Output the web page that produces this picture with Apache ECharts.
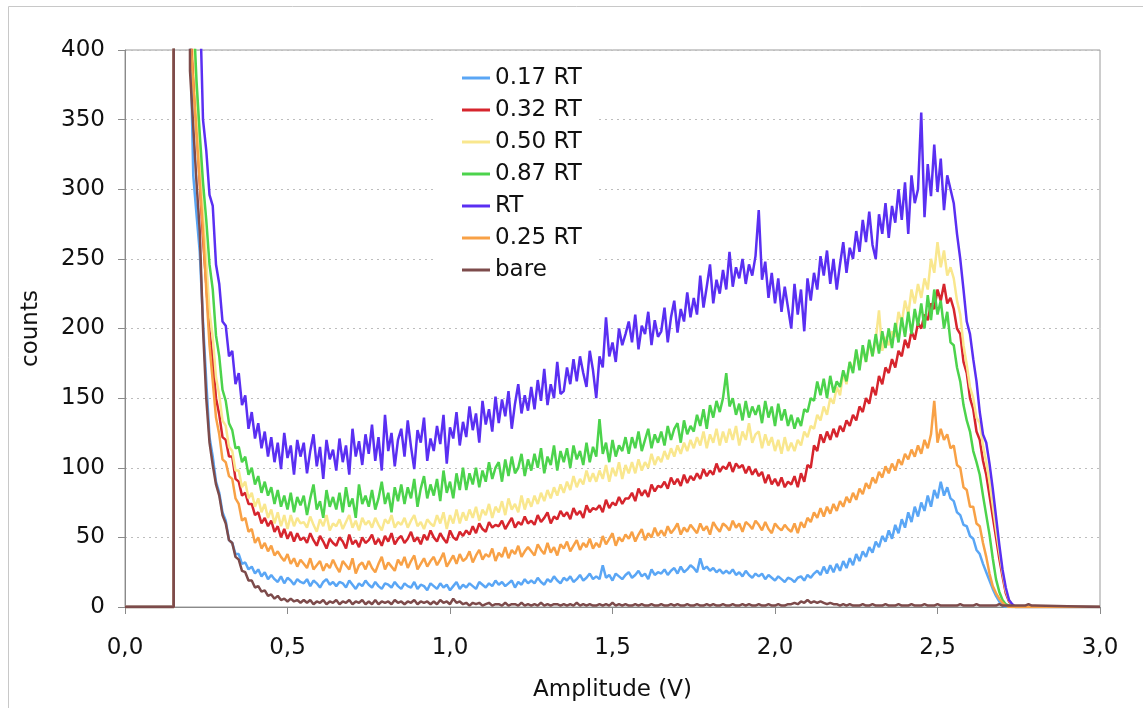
<!DOCTYPE html>
<html><head><meta charset="utf-8">
<script src="https://cdn.jsdelivr.net/npm/echarts@6/dist/echarts.min.js"></script>
<style>html,body{margin:0;padding:0;background:#fff}#c{width:1143px;height:708px}</style>
</head><body><div id="c"></div>
<script>
// Amplitude bins: first bin at 0.15 V, bin width 0.01 V (values below are counts per bin, 0.15 .. 2.80 V)
const amplitudeStart = 0.15;
const binWidth = 0.01;
const xTickValues = [0, 0.5, 1.0, 1.5, 2.0, 2.5, 3.0];
const yTickValues = [0, 50, 100, 150, 200, 250, 300, 350, 400];
const seriesNames = ['0.17 RT', '0.32 RT', '0.50 RT', '0.87 RT', 'RT', '0.25 RT', 'bare'];

const rt017 = [
2000,2000,2000,2000,2000,420,310,282,255,205,
162,122,108,90,82,68,62,48,46,38,
38,31,32,27,29,24,27,22,25,20,
23,20,18,22,17,21,19,16,20,18,
17,20,15,19,17,14,18,20,16,18,
15,18,17,14,19,16,13,17,15,19,
16,14,18,15,13,17,16,14,18,15,
13,17,15,14,18,13,16,15,12,17,
15,13,17,14,16,12,15,18,13,16,
14,17,15,13,18,16,14,17,15,19,
16,18,15,17,19,14,18,16,20,17,
19,17,21,18,16,20,18,22,19,17,
21,19,22,18,20,23,19,21,24,20,
22,20,30,21,23,19,24,22,20,23,
25,21,23,26,22,24,20,27,23,25,
24,27,23,26,28,24,29,25,27,30,
28,25,35,27,29,26,28,25,27,24,
26,24,27,23,25,22,26,23,21,24,
22,24,20,23,21,19,22,20,18,21,
20,18,21,22,19,23,21,24,26,23,
29,24,30,25,31,26,33,28,35,30,
38,33,40,36,43,39,47,43,51,47,
55,49,59,53,63,57,68,61,72,65,
75,69,80,72,84,78,90,80,86,78,
76,68,66,59,58,51,49,41,38,31,
25,19,13,8,4,1,0,0,0,0,
0,0,0,0,0,0];

const rt032 = [
2000,2000,2000,2000,2000,420,385,345,305,265,
232,198,178,150,138,122,120,108,108,92,
90,80,82,74,74,66,68,60,64,58,
62,54,58,50,56,49,54,47,53,48,
50,46,53,48,44,51,47,42,49,46,
44,50,47,42,52,45,48,43,50,46,
48,52,45,49,44,51,47,53,45,49,
51,46,49,54,47,50,45,52,48,55,
50,47,53,49,46,55,50,48,54,51,
55,52,58,53,60,56,54,61,57,59,
58,62,56,60,64,57,61,59,65,60,
62,59,66,61,64,68,60,65,63,69,
65,68,63,71,66,69,64,73,68,71,
70,73,68,77,71,75,73,79,74,78,
78,82,76,85,80,84,79,88,83,87,
86,90,85,93,88,92,87,95,89,94,
91,96,92,99,94,98,95,103,97,101,
99,104,97,103,100,102,96,101,95,99,
94,97,89,95,88,92,87,93,86,90,
88,94,86,96,90,102,100,116,112,124,
118,126,120,128,122,130,126,134,130,138,
134,144,140,150,146,158,152,166,160,172,
168,178,172,184,180,192,186,198,192,204,
200,210,206,218,214,228,220,232,218,222,
214,200,196,176,168,150,142,126,120,105,
95,80,65,50,35,22,10,4,1,0,
0,0,0,0,0,0];

const rt050 = [
2000,2000,2000,2000,2000,460,410,365,322,282,
248,212,194,165,152,134,130,115,112,98,
98,86,90,78,82,72,78,68,74,64,
70,60,68,58,66,56,66,58,64,60,
61,57,65,59,54,63,58,66,55,60,
58,63,56,61,66,57,62,55,64,59,
62,57,64,59,55,63,60,66,57,61,
59,64,57,62,66,58,61,56,63,60,
58,66,60,68,56,66,60,70,60,68,
62,70,64,72,62,70,66,74,64,72,
68,76,66,78,70,74,68,80,70,78,
72,80,74,82,76,84,78,86,80,88,
82,90,84,94,86,92,88,98,90,96,
90,98,92,102,90,100,94,104,92,102,
96,104,96,106,98,104,100,110,102,108,
104,112,106,114,108,116,110,118,112,120,
114,122,116,126,114,124,118,128,116,126,
118,128,120,130,116,126,120,132,118,124,
126,114,124,116,122,112,120,110,122,112,
118,112,120,116,126,122,130,128,138,134,
144,138,150,146,158,152,168,160,176,170,
184,172,186,176,190,180,192,213,184,194,
188,198,194,212,204,220,210,228,218,232,
222,236,228,250,240,262,244,256,238,244,
236,220,210,188,174,158,150,136,132,116,
104,90,73,56,40,25,12,5,1,0,
0,0,0,0,0,0];

const rt087 = [
2000,2000,2000,2000,2000,470,430,378,340,305,
278,246,228,195,180,156,148,132,127,114,
115,104,108,95,100,88,94,82,90,80,
86,74,84,72,80,70,82,68,79,73,
80,66,78,88,70,76,64,84,72,79,
70,82,68,86,72,78,64,88,74,80,
72,84,70,78,90,74,82,68,86,76,
88,74,86,78,92,72,85,94,78,88,
80,92,76,98,82,90,78,96,84,100,
84,96,88,100,86,98,90,104,92,100,
104,90,106,94,108,96,100,110,94,106,
98,110,100,114,96,108,102,116,98,112,
104,114,100,116,106,112,102,118,104,115,
108,135,110,118,104,120,108,116,112,122,
110,122,114,126,112,120,128,114,124,118,
126,116,130,120,128,132,118,134,124,130,
126,138,130,142,128,145,136,148,140,150,
168,144,150,138,146,134,148,136,144,138,
145,132,148,136,144,130,146,134,142,130,
138,128,136,130,142,140,150,148,162,152,
164,150,166,154,162,158,170,162,176,168,
185,170,188,176,192,180,196,182,198,186,
200,186,204,190,208,194,212,196,214,202,
218,200,224,206,228,210,220,200,212,190,
188,172,162,145,134,126,112,104,95,80,
66,52,35,20,11,5,2,1,0,0,
0,0,0,0,0,0];

const rtFull = [
2000,2000,2000,2000,2000,900,700,560,440,350,
328,296,288,246,232,205,202,180,184,160,
168,145,152,128,140,121,132,114,126,108,
122,104,118,99,125,107,116,95,120,108,
118,96,112,124,101,115,92,120,106,113,
98,121,104,116,95,128,108,119,102,124,
110,131,105,122,98,138,112,125,101,120,
128,108,134,115,99,127,118,136,105,121,
112,130,117,138,103,129,121,140,116,133,
122,144,127,139,118,148,131,142,126,151,
132,149,137,155,128,146,160,139,152,141,
158,142,163,148,171,145,160,150,176,153,
155,172,160,178,162,180,168,158,184,170,
150,180,172,208,180,190,176,200,188,196,
205,190,210,185,202,196,212,188,206,194,
198,215,190,208,220,197,214,205,226,208,
222,210,238,215,230,246,218,235,225,242,
228,255,230,244,236,250,232,246,238,252,
285,235,248,222,240,218,236,212,230,215,
200,232,210,228,198,236,220,240,228,252,
238,256,232,250,228,246,262,240,258,250,
270,255,278,262,284,260,250,282,268,290,
265,288,276,300,278,305,268,310,290,300,
355,280,318,295,332,298,322,285,310,300,
290,268,250,228,205,196,178,162,140,124,
118,103,85,65,45,27,14,5,2,0,
0,0,0,0,0,0];

const rt025 = [
2000,2000,2000,2000,2000,415,375,340,305,270,
228,188,162,136,124,106,104,94,92,78,
74,62,64,54,56,46,50,42,46,40,
44,37,40,36,33,38,31,35,29,34,
31,28,35,27,30,33,26,31,28,34,
29,25,33,30,27,35,24,30,32,27,
33,28,25,31,36,27,32,29,26,34,
30,36,28,33,37,27,31,35,29,33,
36,30,34,39,29,33,37,31,38,33,
35,40,32,37,41,34,38,36,42,33,
39,36,43,35,41,38,44,36,40,43,
40,37,45,41,38,46,39,43,37,45,
42,47,40,44,48,41,46,43,49,42,
46,43,51,45,49,53,44,50,47,52,
49,54,47,52,56,48,53,50,57,51,
55,51,58,53,56,60,52,57,54,59,
56,53,60,55,58,52,61,57,54,60,
58,55,62,57,60,54,61,59,56,62,
59,55,61,56,53,60,57,55,59,56,
54,60,53,61,57,64,61,68,64,71,
65,72,67,74,69,76,72,79,75,82,
77,85,81,89,85,93,89,97,93,101,
96,103,98,106,102,110,106,113,108,116,
110,120,114,124,148,118,128,120,124,114,
116,102,100,86,84,72,72,60,58,46,
36,24,15,10,6,3,1,0,0,0,
0,0,0,0,0,0];

const bare = [
2000,2000,2000,2000,2000,385,345,305,270,200,
150,118,102,88,80,66,60,48,46,36,
34,26,25,19,19,14,15,11,12,8,
9,6,8,5,6,4,6,4,5,3,
5,3,5,2,4,3,5,2,4,3,
5,2,4,3,5,2,4,3,5,2,
4,2,5,2,4,3,4,2,5,3,
4,2,4,3,5,2,4,3,4,2,
4,2,5,3,4,2,6,3,4,2,
3,1,3,2,3,1,2,3,1,2,
2,1,3,1,2,2,1,3,1,2,
1,2,1,3,1,2,1,2,2,1,
2,1,2,1,3,1,2,1,2,1,
1,2,1,2,1,3,1,2,1,2,
1,1,2,1,2,1,1,2,1,1,
2,1,1,2,1,2,1,1,2,1,
1,2,1,1,2,1,2,1,1,2,
1,1,2,1,1,2,1,2,1,1,
2,1,1,2,1,1,2,1,1,2,
2,3,2,4,3,5,3,4,3,4,
3,2,3,2,2,1,2,1,2,1,
1,1,2,1,1,2,1,1,1,2,
1,1,1,2,1,1,1,2,1,1,
1,2,1,1,1,2,1,1,1,1,
1,1,2,1,1,1,1,2,1,1,
1,1,1,1,2,1,1,1,1,1,
1,1,1,2,1,1];

const seriesValues = [rt017, rt032, rt050, rt087, rtFull, rt025, bare];
const seriesColors = ['#5aa6f5', '#d6252d', '#f9e78e', '#4cd34c', '#5a2ff2', '#f8a146', '#7d4b4b'];

function toPoints(vals) {
  const pts = [[xTickValues[0], 0], [amplitudeStart, 0]];
  vals.forEach((v, i) => pts.push([+(amplitudeStart + i * binWidth).toFixed(2), v]));
  pts.push([xTickValues[xTickValues.length - 1], 0]);
  return pts;
}

const FONT = 'DejaVu Sans';
const chart = echarts.init(document.getElementById('c'), null, {renderer: 'canvas'});
chart.setOption({
  animation: false,
  backgroundColor: '#fff',
  textStyle: {fontFamily: FONT},
  graphic: [{
    type: 'rect', silent: true, z: -10,
    shape: {x: 8.5, y: 6.5, width: 1300, height: 900},
    style: {fill: 'none', stroke: '#c8c8c8', lineWidth: 1}
  }],
  grid: {left: 125, right: 43, top: 50, bottom: 101, show: true, borderColor: '#9a9a9a', borderWidth: 1},
  legend: {
    orient: 'vertical', left: 433, top: 58,
    data: seriesNames,
    icon: 'rect',
    backgroundColor: '#fff',
    padding: [8, 14, 8, 29],
    itemWidth: 28, itemHeight: 3, itemGap: 8,
    textStyle: {fontSize: 23, color: '#111', fontFamily: FONT, lineHeight: 24}
  },
  xAxis: {
    type: 'value', min: xTickValues[0], max: xTickValues[xTickValues.length - 1], interval: 0.5,
    name: 'Amplitude (V)', nameLocation: 'middle', nameGap: 72,
    nameTextStyle: {fontSize: 23, color: '#111', fontFamily: FONT},
    axisLine: {show: true, lineStyle: {color: '#8a8a8a', width: 1}},
    axisTick: {show: true, length: 7, lineStyle: {color: '#8a8a8a'}},
    splitLine: {show: false},
    axisLabel: {fontSize: 23, color: '#111', margin: 30, fontFamily: FONT,
      formatter: v => v.toFixed(1).replace('.', ',')}
  },
  yAxis: {
    type: 'value', min: yTickValues[0], max: yTickValues[yTickValues.length - 1], interval: 50,
    name: 'counts', nameLocation: 'middle', nameGap: 82,
    nameTextStyle: {fontSize: 23, color: '#111', fontFamily: FONT},
    axisLine: {show: true, lineStyle: {color: '#8a8a8a', width: 1}},
    axisTick: {show: true, length: 7, lineStyle: {color: '#8a8a8a'}},
    splitLine: {show: true, lineStyle: {color: '#bdbdbd', type: [2, 4], width: 1}},
    axisLabel: {fontSize: 23, color: '#111', margin: 20, fontFamily: FONT}
  },
  series: seriesNames.map((name, k) => ({
    name, type: 'line', symbol: 'none', showSymbol: false, clip: true,
    data: toPoints(seriesValues[k]),
    lineStyle: {width: 2.5, color: seriesColors[k]},
    itemStyle: {color: seriesColors[k]},
    z: 2 + k
  }))
});
</script></body></html>
